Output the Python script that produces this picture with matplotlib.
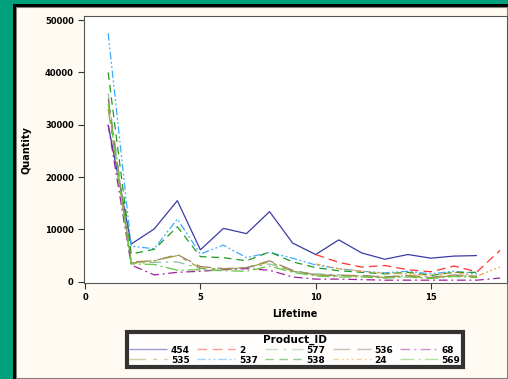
import numpy as np
import matplotlib
matplotlib.use('Agg')
import matplotlib.pyplot as plt
from matplotlib.patches import Rectangle
from matplotlib.lines import Line2D

# Lifetime values
x_full = list(range(1, 18))      # 1..17
x_late = list(range(10, 19))     # 10..18

# Quantity per product
q_454 = [30000, 7200, 10100, 15500, 6100, 10200, 9200, 13400, 7400, 5200, 8000, 5500, 4300, 5200, 4500, 4900, 5000]
q_2 = [5200, 3700, 2800, 3100, 2300, 1900, 3000, 1900, 6000]
q_577 = [36000, 3500, 3700, 3800, 2500, 2300, 2700, 3400, 2000, 1500, 1300, 1100, 1000, 1100, 900, 1200, 1000]
q_536 = [35000, 3800, 4000, 5200, 2900, 2500, 2700, 4000, 2200, 1300, 1200, 1200, 900, 1200, 800, 1300, 1000]
q_68 = [30000, 3200, 1300, 1800, 2000, 2300, 2500, 2200, 900, 500, 500, 400, 300, 300, 300, 300, 300, 700]
q_535 = [33000, 3600, 4000, 5000, 2600, 2400, 2700, 3800, 2000, 1300, 1100, 1100, 800, 1100, 700, 1200, 900]
q_537 = [47500, 6800, 6300, 12000, 5300, 7000, 4600, 5600, 4500, 3200, 2500, 2000, 1700, 2000, 1500, 2000, 1500]
q_538 = [40000, 5300, 6200, 10500, 4800, 4600, 4000, 5700, 3800, 2700, 2100, 1800, 1500, 1800, 1200, 1800, 1800]
q_24 = [3400, 2500, 2000, 1600, 1500, 1200, 1800, 1100, 2800]
q_569 = [34000, 3400, 3300, 2200, 2300, 2100, 2000, 3000, 1800, 1100, 900, 900, 700, 900, 600, 1000, 800]

series = [
    ('454', x_full, q_454, '#3b3ba8', (0, ())),
    ('2', x_late, q_2, '#ff3333', (0, (7, 4))),
    ('577', x_full, q_577, '#88c0a0', (0, (9, 4, 2, 4))),
    ('536', x_full, q_536, '#9a8068', (0, (12, 5))),
    ('68', list(range(1, 19)), q_68, '#a020a0', (0, (7, 3, 1.5, 3))),
    ('535', x_full, q_535, '#a0a040', (0, (12, 5, 3, 5))),
    ('537', x_full, q_537, '#3fa9ff', (0, (6, 2, 1.5, 2, 1.5, 2))),
    ('538', x_full, q_538, '#1f9a1f', (0, (6, 4))),
    ('24', x_late, q_24, '#f0a040', (0, (4, 2, 1.5, 2, 1.5, 2, 1.5, 2))),
    ('569', x_full, q_569, '#66c840', (0, (10, 3, 1.5, 3))),
]

fig = plt.figure(figsize=(5.08, 3.79), dpi=100)
fig.patch.set_facecolor('#00a07c')
W, H = 508, 379
# black frame and cream panel
fig.patches.append(Rectangle((13 / W, 0), 1, 1 - 4 / H, transform=fig.transFigure,
                             facecolor='black', edgecolor='none', zorder=-20))
fig.patches.append(Rectangle((16 / W, 1 / H), 1 - 17 / W, 1 - 8 / H, transform=fig.transFigure,
                             facecolor='#fffbf2', edgecolor='#808080', linewidth=0.8, zorder=-10))

ax = fig.add_axes([83.5 / W, 95.7 / H, (507 - 83.5) / W, (363 - 95.7) / H])
ax.set_facecolor('white')

for name, xs, ys, col, ls in series:
    ax.plot(xs, ys, color=col, linestyle=ls, linewidth=0.9)

ax.set_xlim(-0.07, 18.3)
ax.set_ylim(-300, 50800)
ax.set_xticks([0, 5, 10, 15])
ax.set_yticks([0, 10000, 20000, 30000, 40000, 50000])
ax.tick_params(labelsize=6, length=4, width=0.8, colors='#333333', labelcolor='black', pad=3)
for lbl in ax.get_xticklabels() + ax.get_yticklabels():
    lbl.set_fontweight('bold')
for s in ax.spines.values():
    s.set_color('#555555')
    s.set_linewidth(0.8)

ax.set_xlabel('Lifetime', fontsize=7, fontweight='bold', labelpad=5)
ax.set_ylabel('Quantity', fontsize=7, fontweight='bold', labelpad=10)

handles = [Line2D([], [], color=c, linestyle=ls, linewidth=1.0, alpha=0.5) for _, _, _, c, ls in series]
labels = [n for n, _, _, _, _ in series]
# order so two rows of five fill row by row
order = [0, 5, 1, 6, 2, 7, 3, 8, 4, 9]
leg = fig.legend([handles[i] for i in order], [labels[i] for i in order],
                 ncol=5, loc='center', bbox_to_anchor=(295 / W, 1 - 349.5 / H),
                 title='Product_ID', fontsize=6.5, title_fontsize=7.5, frameon=True,
                 fancybox=False, handlelength=4.2, handletextpad=0.4, columnspacing=0.8,
                 labelspacing=0.1, borderpad=0.3)
leg.get_title().set_fontweight('bold')
leg.get_frame().set_edgecolor('black')
leg.get_frame().set_linewidth(3)
for t in leg.get_texts():
    t.set_fontweight('bold')

fig.savefig('out.png', dpi=100, facecolor=fig.get_facecolor())
